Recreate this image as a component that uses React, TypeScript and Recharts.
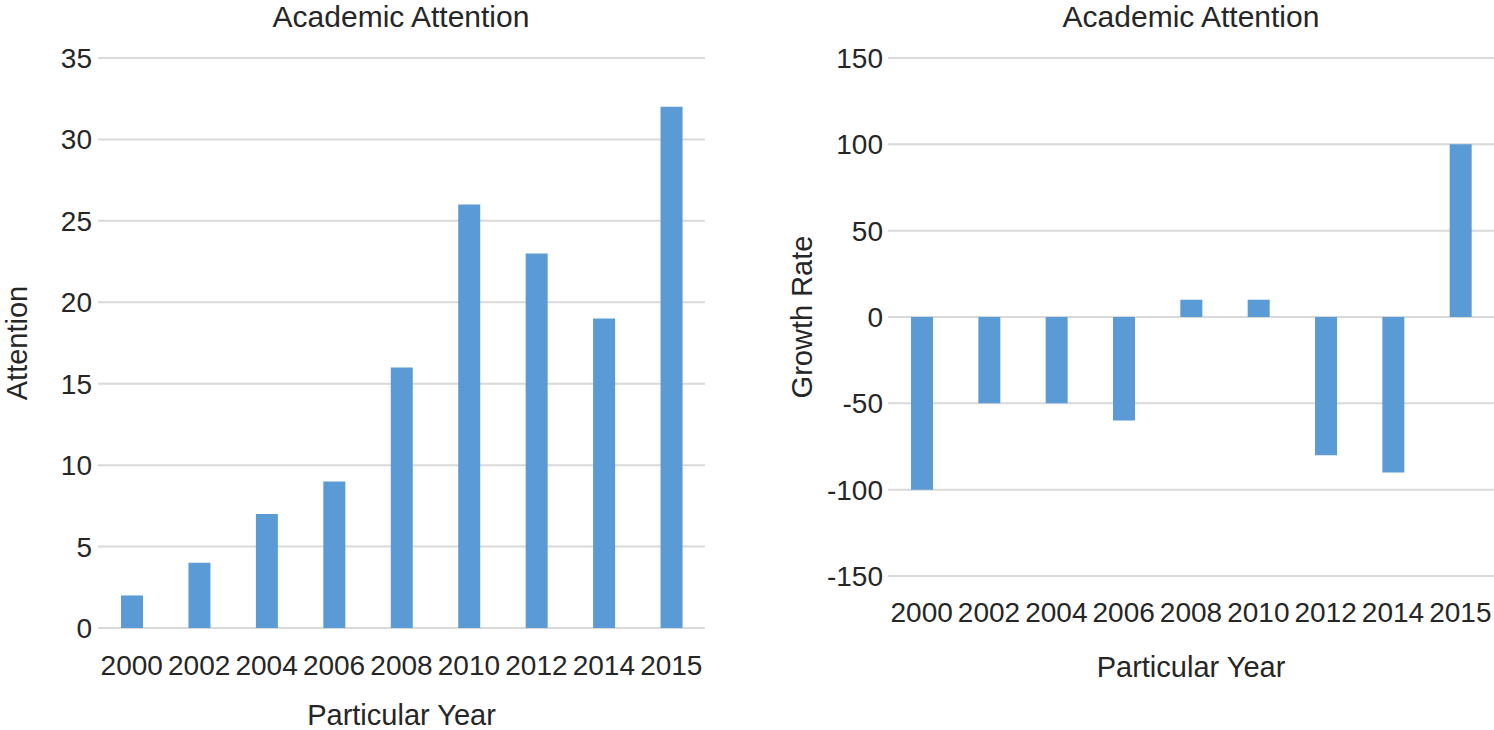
import { Bar, BarChart, CartesianGrid, XAxis, YAxis } from 'recharts';

const years = ['2000', '2002', '2004', '2006', '2008', '2010', '2012', '2014', '2015'];
const attention = [2, 4, 7, 9, 16, 26, 23, 19, 32];
const growthRate = [-100, -50, -50, -60, 10, 10, -80, -90, 100];
const attentionTicks = [0, 5, 10, 15, 20, 25, 30, 35];
const growthTicks = [-150, -100, -50, 0, 50, 100, 150];

const attentionData = years.map((year, i) => ({ year, value: attention[i] }));
const growthData = years.map((year, i) => ({ year, value: growthRate[i] }));

const FONT = "'Liberation Sans', Arial, sans-serif";
const TEXT = '#262626';
const BLUE = '#5b9bd5';
const GRID = '#d9d9d9';

const tickStyle = { fill: TEXT, fontSize: 28, fontFamily: FONT };

// chart titles sit above the svg, centred on each plot area
const Title = ({ text, x }: { text: string; x: number }) => (
  <div
    style={{
      position: 'absolute',
      left: x - 250,
      top: 2,
      width: 500,
      textAlign: 'center',
      fontFamily: FONT,
      fontSize: 30,
      lineHeight: '30px',
      color: TEXT,
    }}
  >
    {text}
  </div>
);

const yLabel = (text: string, dx: number) => (props: any) => {
  const vb = props.viewBox;
  const cx = vb.x + dx;
  const cy = vb.y + vb.height / 2;
  return (
    <text
      x={cx}
      y={cy}
      transform={`rotate(-90, ${cx}, ${cy})`}
      textAnchor="middle"
      dominantBaseline="central"
      fill={TEXT}
      fontSize={29}
      fontFamily={FONT}
    >
      {text}
    </text>
  );
};

const xLabel = (text: string, dy: number) => (props: any) => {
  const vb = props.viewBox;
  return (
    <text
      x={vb.x + vb.width / 2}
      y={vb.y + dy}
      textAnchor="middle"
      dominantBaseline="central"
      fill={TEXT}
      fontSize={29}
      fontFamily={FONT}
    >
      {text}
    </text>
  );
};

export default function App() {
  return (
    <div style={{ position: 'absolute', left: 0, top: 0, width: 1494, height: 730, background: '#fff' }}>
      <Title text="Academic Attention" x={401} />
      <Title text="Academic Attention" x={1191} />

      <div style={{ position: 'absolute', left: 0, top: 0 }}>
        <BarChart
          width={760}
          height={730}
          data={attentionData}
          margin={{ top: 58, right: 55, bottom: 0, left: 0 }}
        >
          <CartesianGrid vertical={false} stroke={GRID} strokeWidth={2} />
          <XAxis
            dataKey="year"
            axisLine={false}
            tickLine={false}
            tickSize={0}
            tickMargin={27}
            tick={tickStyle}
            interval={0}
            height={102}
            label={xLabel('Particular Year', 87)}
          />
          <YAxis
            width={98}
            domain={[0, 35]}
            ticks={attentionTicks}
            axisLine={false}
            tickLine={false}
            tickSize={0}
            tickMargin={6}
            tick={tickStyle}
            label={yLabel('Attention', 17)}
          />
          <Bar dataKey="value" fill={BLUE} barSize={22} isAnimationActive={false} />
        </BarChart>
      </div>

      <div style={{ position: 'absolute', left: 760, top: 0 }}>
        <BarChart
          width={734}
          height={730}
          data={growthData}
          margin={{ top: 58, right: 0, bottom: 0, left: 0 }}
        >
          <CartesianGrid vertical={false} stroke={GRID} strokeWidth={2} />
          <XAxis
            dataKey="year"
            axisLine={false}
            tickLine={false}
            tickSize={0}
            tickMargin={26}
            tick={tickStyle}
            interval={0}
            height={154}
            label={xLabel('Particular Year', 91)}
          />
          <YAxis
            width={128}
            domain={[-150, 150]}
            ticks={growthTicks}
            axisLine={false}
            tickLine={false}
            tickSize={0}
            tickMargin={5}
            tick={tickStyle}
            label={yLabel('Growth Rate', 42)}
          />
          <Bar dataKey="value" fill={BLUE} barSize={22} isAnimationActive={false} />
        </BarChart>
      </div>
    </div>
  );
}
